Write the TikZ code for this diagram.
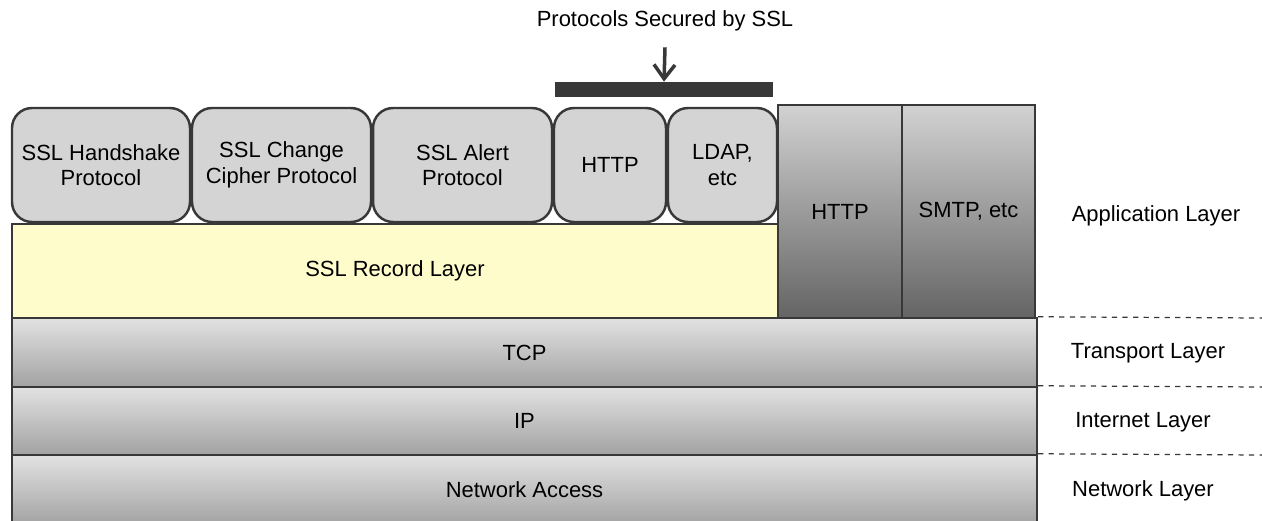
\documentclass[tikz,border=0pt]{standalone}
\usepackage{fontspec}
\setmainfont{Liberation Sans}
\usepackage{tikz}
\usepackage{xcolor}
\usetikzlibrary{arrows.meta, positioning}
\definecolor{edgegray}{HTML}{383838}
\definecolor{protogray}{HTML}{D4D4D4}
\definecolor{recyellow}{HTML}{FFFCCC}
\definecolor{apptop}{HTML}{D2D2D2}
\definecolor{appbottom}{HTML}{646464}
\definecolor{lowtop}{HTML}{E2E2E2}
\definecolor{lowbottom}{HTML}{A2A2A2}
\tikzset{
    proto/.style={draw=edgegray, line width=1.4pt, fill=protogray, rounded corners=0.4cm,
        align=center, inner sep=0pt, font=\fontsize{12.5}{14.5}\selectfont},
    record/.style={draw=edgegray, line width=1.4pt, fill=recyellow,
        inner sep=0pt, font=\fontsize{12.5}{14.5}\selectfont},
    app/.style={draw=edgegray, line width=1.4pt, top color=apptop, bottom color=appbottom,
        inner sep=0pt, minimum height=4.26cm, font=\fontsize{12.5}{14.5}\selectfont},
    lower/.style={draw=edgegray, line width=1.4pt, top color=lowtop, bottom color=lowbottom,
        inner sep=0pt, minimum width=20.5cm, font=\fontsize{12.5}{14.5}\selectfont},
    layername/.style={font=\fontsize{12.5}{14.5}\selectfont},
    layersep/.style={dashed, edgegray, line width=0.7pt}
}

\begin{document}
\begin{tikzpicture}[x=0.02cm, y=-0.02cm]
    \useasboundingbox (0, 0) rectangle (1262, 521);
    \node[lower, minimum height=1.4cm] (na) at (524.5, 490) {Network Access};
    \node[lower, minimum height=1.36cm] (ip) at (524.5, 421) {IP};
    \node[lower, minimum height=1.38cm] (tcp) at (524.5, 352.5) {TCP};
    \node[record, minimum width=15.32cm, minimum height=1.88cm] (rec) at (395, 271) {SSL Record Layer};
    \node[app, minimum width=2.48cm] (apphttp) at (840, 211.5) {HTTP};
    \node[app, minimum width=2.66cm] (smtp) at (968.5, 211.5) {SMTP, etc};
    \node[proto, minimum width=3.56cm, minimum height=2.28cm] (hs) at (101, 165) {SSL Handshake\\Protocol};
    \node[proto, minimum width=3.58cm, minimum height=2.28cm] (cc) at (281.5, 165) {SSL Change\\Cipher Protocol};
    \node[proto, minimum width=3.58cm, minimum height=2.28cm] (al) at (462.5, 165) {SSL Alert\\Protocol};
    \node[proto, minimum width=2.24cm, minimum height=2.28cm] (http) at (610, 165) {HTTP};
    \node[proto, minimum width=2.18cm, minimum height=2.28cm] (ldap) at (722.5, 165) {LDAP,\\etc};
    \node[fill=edgegray, inner sep=0pt, minimum width=4.36cm, minimum height=0.3cm] (bar) at (664, 89.5) {};
    \node[layername] (secured) at (665, 21) {Protocols Secured by SSL};
    \draw[edgegray, line width=2pt, -{Straight Barb[length=8pt, width=12pt, line width=2pt]}] (secured.south) ++(0, 10) -- (bar.north);
    \node[layername] (applayer) at (1156, 216) {Application Layer};
    \node[layername] (translayer) at (1148, 353) {Transport Layer};
    \node[layername] (netlayer) at (1143, 422) {Internet Layer};
    \node[layername] (nwlayer) at (1143, 491) {Network Layer};
    \coordinate (tcpend) at (1262, 318);
    \coordinate (ipend) at (1262, 387);
    \coordinate (naend) at (1262, 455);
    \draw[layersep] (tcp.north east) -- (tcpend);
    \draw[layersep] (ip.north east) -- (ipend);
    \draw[layersep] (na.north east) -- (naend);
\end{tikzpicture}
\end{document}
